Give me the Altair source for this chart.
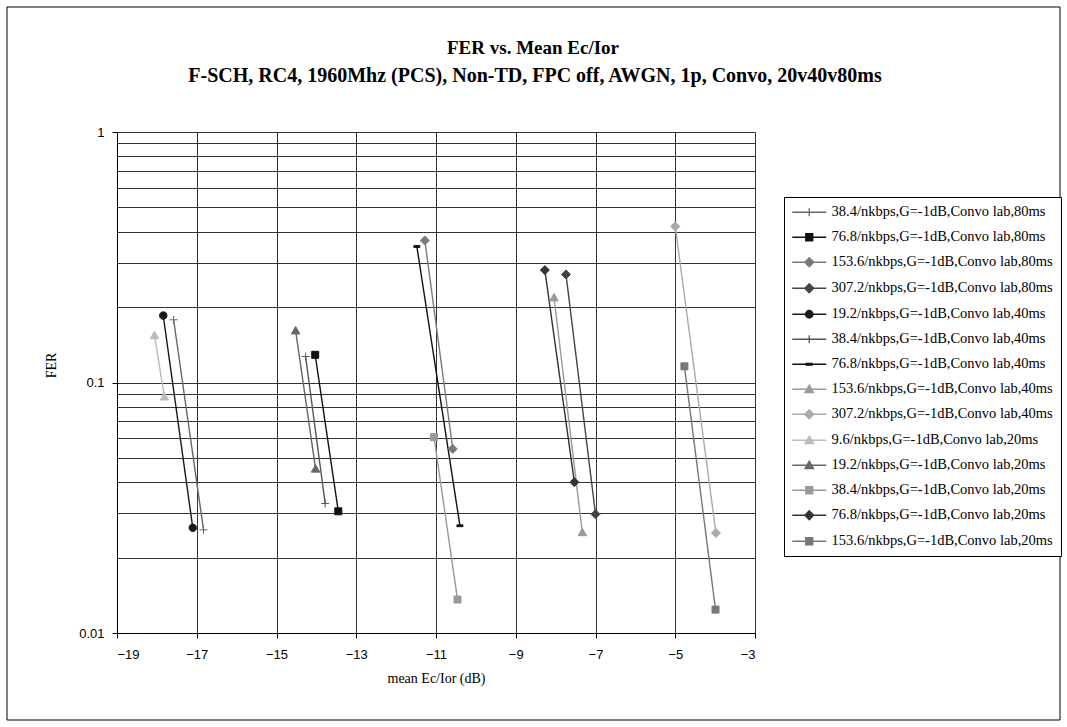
import altair as alt
import pandas as pd

# ---------------- data ----------------
series_names = [
    "38.4/nkbps,G=-1dB,Convo lab,80ms",
    "76.8/nkbps,G=-1dB,Convo lab,80ms",
    "153.6/nkbps,G=-1dB,Convo lab,80ms",
    "307.2/nkbps,G=-1dB,Convo lab,80ms",
    "19.2/nkbps,G=-1dB,Convo lab,40ms",
    "38.4/nkbps,G=-1dB,Convo lab,40ms",
    "76.8/nkbps,G=-1dB,Convo lab,40ms",
    "153.6/nkbps,G=-1dB,Convo lab,40ms",
    "307.2/nkbps,G=-1dB,Convo lab,40ms",
    "9.6/nkbps,G=-1dB,Convo lab,20ms",
    "19.2/nkbps,G=-1dB,Convo lab,20ms",
    "38.4/nkbps,G=-1dB,Convo lab,20ms",
    "76.8/nkbps,G=-1dB,Convo lab,20ms",
    "153.6/nkbps,G=-1dB,Convo lab,20ms",
]
ec_start = [-17.58, -14.03, -11.28, -7.74, -17.84, -14.27, -11.48, -8.04, -5.00, -18.06, -14.52, -11.05, -8.27, -4.77]
ec_end = [-16.83, -13.45, -10.58, -7.00, -17.10, -13.78, -10.40, -7.33, -3.98, -17.81, -14.02, -10.46, -7.53, -3.99]
fer_start = [0.178, 0.129, 0.369, 0.270, 0.185, 0.127, 0.349, 0.218, 0.42, 0.154, 0.161, 0.0605, 0.281, 0.116]
fer_end = [0.0258, 0.0306, 0.0543, 0.0298, 0.0263, 0.0329, 0.0268, 0.0252, 0.0251, 0.0877, 0.0452, 0.0136, 0.040, 0.0124]
series_colors = ["#666666", "#111111", "#7a7a7a", "#444444", "#1a1a1a", "#555555", "#111111",
                 "#999999", "#aaaaaa", "#bbbbbb", "#666666", "#999999", "#333333", "#777777"]
marker_kind = ["cross", "square", "diamond", "diamond", "circle", "cross", "dash",
               "triangle", "diamond", "triangle", "triangle", "square", "diamond", "square"]

x_ticks = [-19, -17, -15, -13, -11, -9, -7, -5, -3]
y_grid = [0.01, 0.02, 0.03, 0.04, 0.05, 0.06, 0.07, 0.08, 0.09,
          0.1, 0.2, 0.3, 0.4, 0.5, 0.6, 0.7, 0.8, 0.9, 1]

title_text = "FER vs. Mean Ec/Ior"
subtitle_text = "F-SCH, RC4, 1960Mhz (PCS), Non-TD, FPC off, AWGN, 1p, Convo, 20v40v80ms"
x_title = "mean Ec/Ior (dB)"
y_title = "FER"

# ---------------- marker shapes ----------------
MARK = {
    "cross": "M-0.8,0H0.8M0,-0.8V0.8",
    "square": "M-0.7,-0.7H0.7V0.7H-0.7Z",
    "diamond": "M0,-0.9L0.9,0L0,0.9L-0.9,0Z",
    "triangle": "M0,-0.85L0.85,0.65H-0.85Z",
    "circle": "M-0.75,0A0.75,0.75,0,1,0,0.75,0A0.75,0.75,0,1,0,-0.75,0Z",
    "dash": "M-0.6,-0.18H0.6V0.18H-0.6Z",
}
point_shapes = [MARK[k] for k in marker_kind]
legend_shapes = ["M-3.4,0H3.4" + MARK[k] for k in marker_kind]

rows = []
for i, name in enumerate(series_names):
    rows.append({"series": name, "ec": ec_start[i], "fer": fer_start[i], "o": 0})
    rows.append({"series": name, "ec": ec_end[i], "fer": fer_end[i], "o": 1})
df = pd.DataFrame(rows)
one = pd.DataFrame({"k": [0]})

W, H = 638, 501
LEFT, TOP = 117, 132

xscale = alt.Scale(domain=[-19, -3], nice=False, zero=False)
yscale = alt.Scale(type="log", domain=[0.01, 1], nice=False)

major_test = "datum.value == 1 || datum.value == 0.1 || datum.value == 0.01"

x_enc = alt.X("ec:Q", scale=xscale, axis=alt.Axis(
    values=x_ticks, title=x_title, grid=True, gridColor="#333333", gridWidth=1,
    domainColor="black", tickColor="black", tickSize=5, labelPadding=10,
    labelFont="Liberation Sans", labelFontSize=13, labelColor="black",
    titleFont="Liberation Serif", titleFontSize=14, titleFontWeight="normal",
    titleColor="black", titlePadding=10))
y_enc = alt.Y("fer:Q", scale=yscale, axis=alt.Axis(
    values=y_grid, title=y_title, grid=True, gridColor="#333333", gridWidth=1,
    format="~g", labelExpr=f"({major_test}) ? datum.label : ''",
    domainColor="black", tickColor="black", tickSize=5,
    tickOpacity={"condition": {"test": major_test, "value": 1}, "value": 0},
    labelPadding=8, labelFont="Liberation Sans", labelFontSize=13, labelColor="black",
    titleFont="Liberation Serif", titleFontSize=14, titleFontWeight="normal",
    titleColor="black", titlePadding=20, titleY=233))

color_scale = alt.Scale(domain=series_names, range=series_colors)

lines = alt.Chart(df).mark_line(strokeWidth=1.4).encode(
    x=x_enc, y=y_enc,
    color=alt.Color("series:N", scale=color_scale, legend=None),
    detail="series:N",
    order="o:Q",
)

points = alt.Chart(df).mark_point(filled=True, opacity=1, size=100, strokeWidth=1).encode(
    x=alt.X("ec:Q", scale=xscale),
    y=alt.Y("fer:Q", scale=yscale),
    fill=alt.Fill("series:N", scale=color_scale, legend=None),
    stroke=alt.Stroke("series:N", scale=color_scale, legend=None),
    shape=alt.Shape("series:N", scale=alt.Scale(domain=series_names, range=point_shapes), legend=None),
)

leg = alt.Legend(
    title=None, orient="none", legendX=784 - LEFT, legendY=197 - TOP,
    strokeColor="black", fillColor="white", padding=8,
    symbolSize=100, symbolStrokeWidth=1.3, symbolOffset=10,
    labelOffset=15, labelFont="Liberation Serif", labelFontSize=14.5,
    labelColor="black", labelLimit=400, rowPadding=10,
)
legend_layer = alt.Chart(df).mark_point(filled=True, opacity=1, size=100, strokeWidth=1.3).encode(
    fill=alt.Fill("series:N", scale=alt.Scale(domain=series_names, range=series_colors), legend=leg, sort=series_names),
    stroke=alt.Stroke("series:N", scale=alt.Scale(domain=series_names, range=series_colors), legend=leg, sort=series_names),
    shape=alt.Shape("series:N", scale=alt.Scale(domain=series_names, range=legend_shapes), legend=leg, sort=series_names),
).transform_filter("false")

border = alt.Chart(one).mark_rect(
    fill="transparent", stroke="black", strokeWidth=1
).encode(
    x=alt.value(7 - LEFT), x2=alt.value(1060 - LEFT),
    y=alt.value(7 - TOP), y2=alt.value(720 - TOP),
)

title_mark = alt.Chart(one).mark_text(
    font="Liberation Serif", fontSize=19, fontWeight="bold", color="black",
    align="center", baseline="middle",
).encode(x=alt.value(533 - LEFT), y=alt.value(48 - TOP), text=alt.value(title_text))

subtitle_mark = alt.Chart(one).mark_text(
    font="Liberation Serif", fontSize=20, fontWeight="bold", color="black",
    align="center", baseline="middle",
).encode(x=alt.value(535 - LEFT), y=alt.value(76 - TOP), text=alt.value(subtitle_text))

chart = alt.layer(border, title_mark, subtitle_mark, lines, points, legend_layer).resolve_scale(
    color="independent", fill="independent", stroke="independent", shape="independent"
).properties(
    width=W, height=H,
    autosize=alt.AutoSizeParams(type="none"),
    padding={"left": LEFT, "top": TOP, "right": 1067 - LEFT - W, "bottom": 727 - TOP - H},
).configure_view(stroke="black", strokeWidth=1).configure(background="white")

chart.save("out.html", embed_options={"renderer": "svg", "actions": False})
